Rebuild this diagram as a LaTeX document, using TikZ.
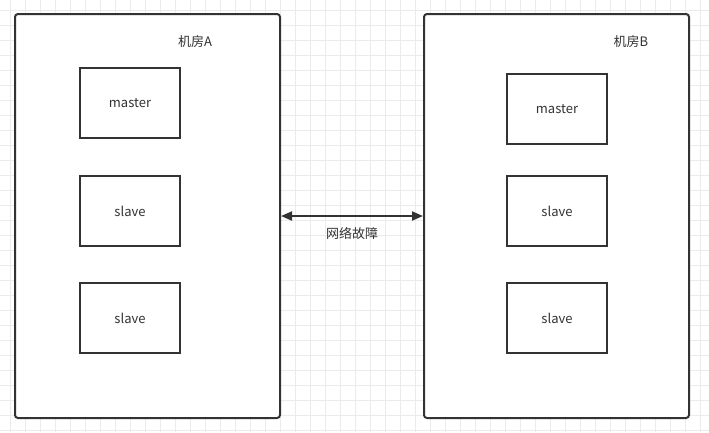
\documentclass[tikz,border=0pt]{standalone}
\usepackage{fontspec}
\setmainfont{Noto Sans CJK SC}
\usetikzlibrary{arrows.meta}
\definecolor{ink}{HTML}{333333}
\definecolor{gridc}{HTML}{EBEBEB}
\begin{document}
\begin{tikzpicture}[x=1pt,y=-1pt,
  room/.style={draw=ink,line width=2pt,rounded corners=3pt},
  srv/.style={draw=ink,line width=2pt,minimum width=100pt,minimum height=70pt,inner sep=0pt,text=ink,font=\fontsize{13}{15}\selectfont},
  lbl/.style={text=ink,font=\fontsize{13}{15}\selectfont,inner sep=1pt},
  link/.style={draw=ink,line width=2pt,{Triangle[length=11pt,width=9pt]}-{Triangle[length=11pt,width=9pt]}}]
\useasboundingbox (0,0) rectangle (709,432);
\fill[white] (0,0) rectangle (709,432);
\foreach \g in {10,25,...,709} \draw[gridc,line width=0.8pt] (\g,0) -- (\g,432);
\foreach \g in {10,25,...,432} \draw[gridc,line width=0.8pt] (0,\g) -- (709,\g);
\node[room,fill=white,minimum width=265pt,minimum height=404pt,inner sep=0pt] (roomA) at (147.5,216) {};
\node[room,fill=white,minimum width=265pt,minimum height=404pt,inner sep=0pt] (roomB) at (556.5,216) {};
\node[lbl] (labA) at (195,42) {机房A};
\node[lbl] (labB) at (631,42) {机房B};
\node[srv] (a1) at (130,103) {master};
\node[srv] (a2) at (130,211) {slave};
\node[srv] (a3) at (130,318) {slave};
\node[srv] (b1) at (557,109) {master};
\node[srv] (b2) at (557,211) {slave};
\node[srv] (b3) at (557,318) {slave};
\coordinate (pA) at (281,216);
\coordinate (pB) at (423,216);
\draw[link] (pA) -- (pB);
\node[lbl] (net) at (352,233) {网络故障};
\end{tikzpicture}
\end{document}
